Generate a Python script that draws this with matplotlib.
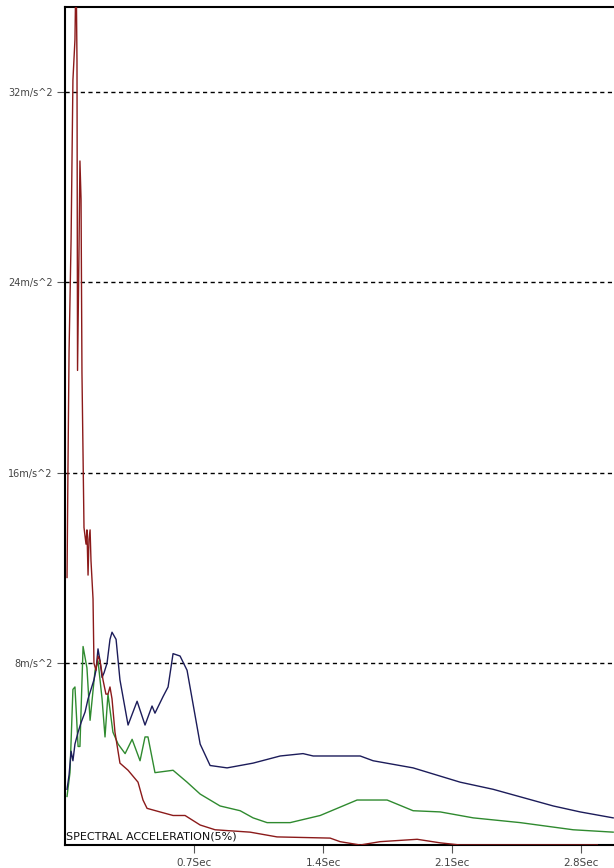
import matplotlib.pyplot as plt
import numpy as np

# spectral acceleration curves (period in sec, value in m/s^2)
red_t = [0.011, 0.016, 0.022, 0.033, 0.043, 0.054, 0.060, 0.065, 0.068, 0.076, 0.081, 0.087,
         0.092, 0.103, 0.114, 0.119, 0.125, 0.130, 0.136, 0.141, 0.152, 0.157, 0.168, 0.179,
         0.190, 0.206, 0.222, 0.233, 0.244, 0.255, 0.271, 0.298, 0.342, 0.396, 0.423, 0.445,
         0.515, 0.586, 0.651, 0.733, 0.814, 1.004, 1.150, 1.438, 1.492, 1.601, 1.709, 1.910,
         2.035, 2.143, 2.887]
red_v = [11.6, 16.1, 21.1, 25.8, 32.5, 34.2, 37.5, 33.3, 20.3, 25.4, 29.1, 27.5,
         20.2, 13.7, 13.0, 13.6, 11.7, 13.2, 13.6, 12.3, 10.7, 8.0, 7.7, 8.3,
         8.1, 7.3, 6.7, 6.7, 7.0, 6.5, 5.1, 3.8, 3.5, 3.0, 2.25, 1.9,
         1.75, 1.6, 1.6, 1.2, 1.0, 0.9, 0.7, 0.65, 0.5, 0.36, 0.5, 0.6,
         0.45, 0.36, 0.36]

blue_t = [0.011, 0.022, 0.033, 0.043, 0.054, 0.071, 0.087, 0.109, 0.125, 0.141, 0.157, 0.168,
          0.179, 0.190, 0.201, 0.212, 0.228, 0.244, 0.255, 0.277, 0.298, 0.342, 0.391, 0.434,
          0.472, 0.488, 0.532, 0.559, 0.586, 0.624, 0.662, 0.733, 0.787, 0.879, 1.020, 1.167,
          1.291, 1.346, 1.601, 1.671, 1.888, 2.143, 2.322, 2.648, 2.794, 2.973]
blue_v = [2.7, 3.3, 4.3, 3.9, 4.6, 5.1, 5.5, 5.95, 6.5, 6.9, 7.3, 7.7,
          8.6, 8.1, 7.4, 7.6, 8.0, 9.0, 9.3, 9.0, 7.3, 5.4, 6.4, 5.4,
          6.2, 5.9, 6.6, 7.0, 8.4, 8.3, 7.7, 4.6, 3.7, 3.6, 3.8, 4.1,
          4.2, 4.1, 4.1, 3.9, 3.6, 3.0, 2.7, 2.0, 1.75, 1.5]

green_t = [0.011, 0.027, 0.043, 0.054, 0.071, 0.081, 0.098, 0.119, 0.136, 0.163, 0.179, 0.201,
           0.217, 0.233, 0.260, 0.288, 0.326, 0.364, 0.407, 0.434, 0.450, 0.488, 0.586, 0.662,
           0.733, 0.841, 0.950, 1.020, 1.096, 1.221, 1.384, 1.584, 1.747, 1.888, 2.035, 2.214,
           2.469, 2.756, 2.973]
green_v = [2.4, 3.4, 6.9, 7.0, 4.5, 4.5, 8.7, 7.8, 5.6, 7.7, 8.1, 6.5,
           4.9, 6.7, 5.1, 4.6, 4.2, 4.8, 3.9, 4.9, 4.9, 3.4, 3.5, 3.0,
           2.5, 2.0, 1.8, 1.5, 1.3, 1.3, 1.6, 2.25, 2.25, 1.8, 1.75, 1.5,
           1.3, 1.0, 0.9]

x_ticks = [0.7, 1.4, 2.1, 2.8]
x_labels = ['0.7Sec', '1.4Sec', '2.1Sec', '2.8Sec']
y_ticks = [8, 16, 24, 32]
y_labels = ['8m/s^2', '16m/s^2', '24m/s^2', '32m/s^2']

fig = plt.figure(figsize=(6.14, 8.68), dpi=100)
ax = fig.add_axes([65 / 614, 1 - 845 / 868, 555 / 614, 838 / 868])

for yv in y_ticks:
    ax.axhline(yv, color='black', lw=1.0, ls=(0, (3, 2.5)), zorder=1)

ax.plot(red_t, red_v, color='#8b1a1a', lw=1.0, zorder=3)
ax.plot(green_t, green_v, color='#2f8a2f', lw=1.0, zorder=2)
ax.plot(blue_t, blue_v, color='#1c1c5a', lw=1.0, zorder=2)

ax.set_xlim(0, 3.01)
ax.set_ylim(0.36, 35.57)

ax.set_xticks(x_ticks)
ax.set_xticklabels(x_labels, fontsize=7.5, color='#444444')
ax.set_yticks(y_ticks)
ax.set_yticklabels(y_labels, fontsize=7, color='#444444')
ax.tick_params(axis='both', direction='out', length=6, width=0.8, color='#555555', pad=3)

for side in ['left', 'top', 'bottom']:
    ax.spines[side].set_linewidth(1.5)
ax.spines['right'].set_visible(False)

ax.text(0.003, 0.5, 'SPECTRAL ACCELERATION(5%)', fontsize=8, color='#111111',
        ha='left', va='bottom', transform=ax.transData)

fig.savefig('out.png', dpi=100)
